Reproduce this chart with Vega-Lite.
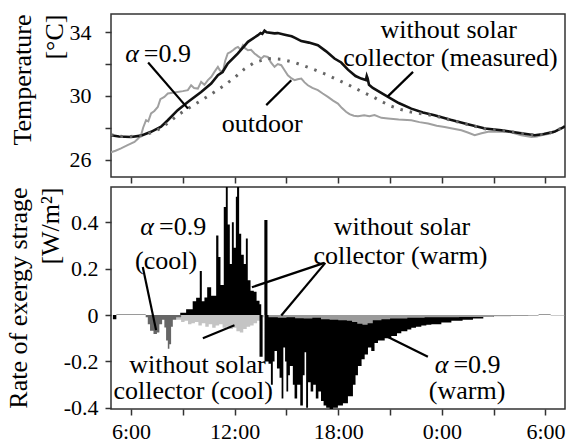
{
  "$schema": "https://vega.github.io/schema/vega-lite/v6.json",
  "background": "white",
  "padding": {"left": 4, "top": 13, "right": 0, "bottom": 2},
  "bounds": "flush",
  "spacing": 10,
  "config": {
    "font": "Liberation Serif, Times New Roman, serif",
    "view": {"stroke": "#333", "strokeWidth": 1.5},
    "text": {"font": "Liberation Serif, Times New Roman, serif"},
    "axis": {"grid": false, "domain": false, "tickColor": "#333", "tickWidth": 1.5, "tickSize": 6, "labelColor": "#000", "titleColor": "#000", "labelFont": "Liberation Serif, Times New Roman, serif", "titleFont": "Liberation Serif, Times New Roman, serif", "titleFontWeight": "normal", "labelFontSize": 22, "titleFontSize": 26}
  },
  "datasets": {
    "meas": [
      {"t": 4.84, "T": 27.53}, {"t": 5.3, "T": 27.45}, {"t": 6.0, "T": 27.42}, {"t": 6.58, "T": 27.5}, {"t": 7.16, "T": 27.74}, {"t": 7.74, "T": 28.06}, {"t": 8.13, "T": 28.47}, {"t": 8.7, "T": 29.1}, {"t": 9.29, "T": 29.62}, {"t": 10.06, "T": 30.25}, {"t": 10.64, "T": 30.78}, {"t": 11.03, "T": 31.3}, {"t": 11.3, "T": 31.5}, {"t": 11.6, "T": 32.04}, {"t": 12.19, "T": 32.67}, {"t": 12.77, "T": 33.4}, {"t": 13.35, "T": 33.82}, {"t": 13.5, "T": 33.95}, {"t": 13.6, "T": 33.9}, {"t": 13.73, "T": 34.1}, {"t": 13.85, "T": 34.0}, {"t": 14.31, "T": 33.93}, {"t": 14.5, "T": 33.95}, {"t": 14.9, "T": 33.85}, {"t": 15.3, "T": 33.75}, {"t": 15.5, "T": 33.65}, {"t": 15.86, "T": 33.45}, {"t": 16.3, "T": 33.35}, {"t": 16.82, "T": 33.19}, {"t": 17.3, "T": 32.8}, {"t": 17.78, "T": 32.35}, {"t": 18.17, "T": 32.1}, {"t": 18.56, "T": 31.65}, {"t": 19.0, "T": 31.25}, {"t": 19.33, "T": 31.09}, {"t": 19.6, "T": 31.0}, {"t": 19.65, "T": 31.25}, {"t": 19.7, "T": 31.1}, {"t": 19.78, "T": 30.7}, {"t": 20.0, "T": 30.5}, {"t": 20.88, "T": 29.94}, {"t": 21.5, "T": 29.55}, {"t": 22.23, "T": 29.2}, {"t": 22.9, "T": 28.95}, {"t": 23.57, "T": 28.79}, {"t": 24.5, "T": 28.5}, {"t": 25.5, "T": 28.22}, {"t": 26.5, "T": 27.95}, {"t": 27.45, "T": 27.84}, {"t": 28.4, "T": 27.68}, {"t": 29.38, "T": 27.53}, {"t": 29.9, "T": 27.6}, {"t": 30.5, "T": 27.74}, {"t": 31.0, "T": 28.0}, {"t": 31.13, "T": 28.1}
    ],
    "alpha": [
      {"t": 4.84, "T": 27.55}, {"t": 5.5, "T": 27.45}, {"t": 6.0, "T": 27.45}, {"t": 6.6, "T": 27.5}, {"t": 7.2, "T": 27.7}, {"t": 7.7, "T": 27.95}, {"t": 8.22, "T": 28.36}, {"t": 8.7, "T": 28.79}, {"t": 9.29, "T": 29.2}, {"t": 9.77, "T": 29.52}, {"t": 10.25, "T": 29.84}, {"t": 10.83, "T": 30.25}, {"t": 11.41, "T": 30.67}, {"t": 12.0, "T": 31.15}, {"t": 12.57, "T": 31.7}, {"t": 13.15, "T": 32.1}, {"t": 13.92, "T": 32.35}, {"t": 14.7, "T": 32.3}, {"t": 15.47, "T": 32.1}, {"t": 16.24, "T": 31.8}, {"t": 16.72, "T": 31.6}, {"t": 17.3, "T": 31.35}, {"t": 17.88, "T": 31.05}, {"t": 18.4, "T": 30.8}, {"t": 18.94, "T": 30.5}, {"t": 19.5, "T": 30.2}, {"t": 20.0, "T": 29.95}, {"t": 20.5, "T": 29.65}, {"t": 21.07, "T": 29.35}, {"t": 21.6, "T": 29.15}, {"t": 22.23, "T": 28.98}, {"t": 23.0, "T": 28.85}, {"t": 23.6, "T": 28.75}, {"t": 24.5, "T": 28.48}, {"t": 25.5, "T": 28.2}, {"t": 26.5, "T": 27.93}, {"t": 27.5, "T": 27.82}, {"t": 28.5, "T": 27.66}, {"t": 29.4, "T": 27.53}, {"t": 30.0, "T": 27.6}, {"t": 30.5, "T": 27.74}, {"t": 31.13, "T": 28.1}
    ],
    "outdoor": [
      {"t": 4.84, "T": 26.45}, {"t": 5.1, "T": 26.55}, {"t": 5.42, "T": 26.7}, {"t": 5.8, "T": 26.9}, {"t": 6.2, "T": 27.1}, {"t": 6.4, "T": 27.3}, {"t": 6.58, "T": 27.53}, {"t": 6.7, "T": 28.0}, {"t": 6.87, "T": 28.47}, {"t": 7.0, "T": 28.4}, {"t": 7.16, "T": 28.9}, {"t": 7.35, "T": 29.05}, {"t": 7.55, "T": 29.3}, {"t": 7.7, "T": 29.8}, {"t": 7.93, "T": 29.94}, {"t": 8.13, "T": 30.15}, {"t": 8.4, "T": 30.2}, {"t": 8.7, "T": 30.25}, {"t": 9.0, "T": 30.3}, {"t": 9.29, "T": 30.36}, {"t": 9.48, "T": 30.67}, {"t": 9.65, "T": 30.5}, {"t": 9.87, "T": 30.46}, {"t": 10.06, "T": 30.88}, {"t": 10.25, "T": 30.7}, {"t": 10.45, "T": 30.99}, {"t": 10.65, "T": 31.2}, {"t": 10.83, "T": 31.51}, {"t": 11.03, "T": 31.82}, {"t": 11.15, "T": 31.6}, {"t": 11.32, "T": 31.51}, {"t": 11.45, "T": 32.2}, {"t": 11.6, "T": 32.67}, {"t": 11.75, "T": 32.75}, {"t": 11.9, "T": 32.87}, {"t": 12.05, "T": 33.0}, {"t": 12.19, "T": 33.08}, {"t": 12.35, "T": 32.9}, {"t": 12.48, "T": 33.19}, {"t": 12.6, "T": 33.0}, {"t": 12.77, "T": 32.87}, {"t": 12.95, "T": 32.9}, {"t": 13.15, "T": 32.67}, {"t": 13.35, "T": 32.5}, {"t": 13.54, "T": 32.35}, {"t": 13.7, "T": 32.5}, {"t": 13.92, "T": 32.45}, {"t": 14.1, "T": 32.1}, {"t": 14.31, "T": 31.83}, {"t": 14.5, "T": 32.0}, {"t": 14.7, "T": 31.93}, {"t": 14.9, "T": 31.6}, {"t": 15.08, "T": 31.3}, {"t": 15.3, "T": 31.1}, {"t": 15.47, "T": 30.99}, {"t": 15.65, "T": 31.05}, {"t": 15.86, "T": 31.09}, {"t": 16.05, "T": 30.85}, {"t": 16.24, "T": 30.67}, {"t": 16.5, "T": 30.5}, {"t": 16.82, "T": 30.36}, {"t": 17.1, "T": 30.15}, {"t": 17.4, "T": 29.94}, {"t": 17.7, "T": 29.7}, {"t": 17.98, "T": 29.52}, {"t": 18.2, "T": 29.25}, {"t": 18.45, "T": 29.0}, {"t": 18.65, "T": 28.85}, {"t": 18.9, "T": 28.75}, {"t": 19.14, "T": 28.72}, {"t": 19.5, "T": 28.78}, {"t": 19.8, "T": 28.72}, {"t": 20.1, "T": 28.79}, {"t": 20.5, "T": 28.62}, {"t": 20.88, "T": 28.58}, {"t": 21.5, "T": 28.52}, {"t": 22.23, "T": 28.47}, {"t": 22.7, "T": 28.35}, {"t": 23.2, "T": 28.26}, {"t": 23.7, "T": 28.12}, {"t": 24.16, "T": 28.05}, {"t": 24.6, "T": 27.95}, {"t": 25.13, "T": 27.84}, {"t": 25.5, "T": 27.7}, {"t": 25.9, "T": 27.53}, {"t": 26.3, "T": 27.65}, {"t": 26.68, "T": 27.74}, {"t": 27.3, "T": 27.76}, {"t": 27.84, "T": 27.74}, {"t": 28.2, "T": 27.65}, {"t": 28.6, "T": 27.53}, {"t": 29.19, "T": 27.42}, {"t": 29.5, "T": 27.45}, {"t": 29.77, "T": 27.53}, {"t": 30.2, "T": 27.62}, {"t": 30.54, "T": 27.74}, {"t": 30.8, "T": 27.9}, {"t": 31.13, "T": 28.1}
    ],
    "tlead": [
      {"t": 6.99, "T": 32.1, "t2": 9.3, "T2": 29.2},
      {"t": 13.83, "T": 29.42, "t2": 15.28, "T2": 30.99},
      {"t": 22.33, "T": 31.51, "t2": 20.84, "T2": 29.94}
    ],
    "tlab": [
      {"t": 13.6, "T": 27.74, "label": "outdoor"},
      {"t": 24.4, "T": 33.61, "label": "without solar"},
      {"t": 24.5, "T": 31.87, "label": "collector (measured)"}
    ],
    "talpha": [
      {"t": 6.45, "T": 32.16, "g": "α", "r": "=0.9"}
    ],
    "pos": [
      {"t": 8.85, "v": 0.01}, {"t": 9.19, "v": 0.025}, {"t": 9.57, "v": 0.06}, {"t": 9.77, "v": 0.075}, {"t": 9.98, "v": 0.19}, {"t": 10.1, "v": 0.06}, {"t": 10.25, "v": 0.076}, {"t": 10.41, "v": 0.12}, {"t": 10.64, "v": 0.083}, {"t": 10.93, "v": 0.343}, {"t": 11.06, "v": 0.25}, {"t": 11.18, "v": 0.13}, {"t": 11.37, "v": 0.466}, {"t": 11.49, "v": 0.6}, {"t": 11.6, "v": 0.39}, {"t": 11.72, "v": 0.22}, {"t": 11.84, "v": 0.4}, {"t": 11.95, "v": 0.29}, {"t": 12.07, "v": 0.51}, {"t": 12.14, "v": 0.6}, {"t": 12.26, "v": 0.35}, {"t": 12.38, "v": 0.26}, {"t": 12.53, "v": 0.22}, {"t": 12.65, "v": 0.33}, {"t": 12.76, "v": 0.15}, {"t": 12.92, "v": 0.105}, {"t": 13.11, "v": 0.1}, {"t": 13.27, "v": 0.062}, {"t": 13.44, "v": 0.047}, {"t": 13.54, "v": 0}, {"t": 13.72, "v": 0.41}, {"t": 13.9, "v": 0}
    ],
    "neg": [
      {"t": 4.95, "v": -0.018}, {"t": 5.15, "v": 0}, {"t": 13.44, "v": -0.18}, {"t": 13.62, "v": 0}, {"t": 13.73, "v": -0.2}, {"t": 13.96, "v": -0.21}, {"t": 14.1, "v": -0.3}, {"t": 14.21, "v": -0.2}, {"t": 14.31, "v": -0.155}, {"t": 14.45, "v": -0.23}, {"t": 14.6, "v": -0.27}, {"t": 14.72, "v": -0.36}, {"t": 14.82, "v": -0.14}, {"t": 14.92, "v": -0.2}, {"t": 15.0, "v": -0.33}, {"t": 15.1, "v": -0.26}, {"t": 15.2, "v": -0.22}, {"t": 15.37, "v": -0.3}, {"t": 15.47, "v": -0.36}, {"t": 15.62, "v": -0.3}, {"t": 15.8, "v": -0.39}, {"t": 15.95, "v": -0.26}, {"t": 16.05, "v": -0.16}, {"t": 16.14, "v": -0.4}, {"t": 16.25, "v": -0.29}, {"t": 16.4, "v": -0.33}, {"t": 16.55, "v": -0.3}, {"t": 16.7, "v": -0.36}, {"t": 16.85, "v": -0.33}, {"t": 17.0, "v": -0.37}, {"t": 17.15, "v": -0.39}, {"t": 17.3, "v": -0.4}, {"t": 17.5, "v": -0.41}, {"t": 17.7, "v": -0.4}, {"t": 17.98, "v": -0.39}, {"t": 18.27, "v": -0.38}, {"t": 18.56, "v": -0.35}, {"t": 18.85, "v": -0.3}, {"t": 19.0, "v": -0.26}, {"t": 19.14, "v": -0.22}, {"t": 19.35, "v": -0.19}, {"t": 19.53, "v": -0.17}, {"t": 19.72, "v": -0.14}, {"t": 19.91, "v": -0.155}, {"t": 20.1, "v": -0.12}, {"t": 20.3, "v": -0.11}, {"t": 20.69, "v": -0.1}, {"t": 21.07, "v": -0.09}, {"t": 21.4, "v": -0.078}, {"t": 21.65, "v": -0.07}, {"t": 22.0, "v": -0.062}, {"t": 22.23, "v": -0.055}, {"t": 22.5, "v": -0.05}, {"t": 22.81, "v": -0.045}, {"t": 23.1, "v": -0.042}, {"t": 23.39, "v": -0.04}, {"t": 23.97, "v": -0.032}, {"t": 24.55, "v": -0.025}, {"t": 25.2, "v": -0.02}, {"t": 25.8, "v": -0.015}, {"t": 26.4, "v": -0.008}, {"t": 27.0, "v": 0}
    ],
    "acool": [
      {"t": 6.85, "v": -0.01}, {"t": 6.97, "v": -0.04}, {"t": 7.1, "v": -0.068}, {"t": 7.3, "v": -0.082}, {"t": 7.5, "v": -0.075}, {"t": 7.64, "v": -0.04}, {"t": 7.8, "v": -0.02}, {"t": 7.93, "v": -0.054}, {"t": 8.03, "v": -0.11}, {"t": 8.13, "v": -0.145}, {"t": 8.22, "v": -0.126}, {"t": 8.32, "v": -0.05}, {"t": 8.42, "v": -0.02}, {"t": 8.61, "v": -0.01}, {"t": 8.9, "v": 0}
    ],
    "wcool": [
      {"t": 8.6, "v": -0.02}, {"t": 8.9, "v": -0.03}, {"t": 9.1, "v": -0.025}, {"t": 9.3, "v": -0.04}, {"t": 9.5, "v": -0.035}, {"t": 9.7, "v": -0.03}, {"t": 9.9, "v": -0.045}, {"t": 10.1, "v": -0.035}, {"t": 10.3, "v": -0.05}, {"t": 10.5, "v": -0.04}, {"t": 10.7, "v": -0.055}, {"t": 10.9, "v": -0.045}, {"t": 11.1, "v": -0.04}, {"t": 11.3, "v": -0.055}, {"t": 11.5, "v": -0.05}, {"t": 11.7, "v": -0.06}, {"t": 11.9, "v": -0.055}, {"t": 12.1, "v": -0.07}, {"t": 12.3, "v": -0.075}, {"t": 12.5, "v": -0.06}, {"t": 12.7, "v": -0.05}, {"t": 12.9, "v": -0.045}, {"t": 13.1, "v": -0.035}, {"t": 13.3, "v": -0.025}, {"t": 13.5, "v": -0.01}, {"t": 13.7, "v": 0}
    ],
    "band": [
      {"t": 5.15, "v": 0.005}, {"t": 6.85, "v": 0}, {"t": 13.96, "v": -0.01}, {"t": 14.5, "v": -0.012}, {"t": 15.0, "v": -0.01}, {"t": 15.5, "v": -0.014}, {"t": 16.0, "v": -0.015}, {"t": 16.5, "v": -0.012}, {"t": 17.0, "v": -0.018}, {"t": 17.5, "v": -0.02}, {"t": 18.0, "v": -0.022}, {"t": 18.5, "v": -0.025}, {"t": 18.8, "v": -0.03}, {"t": 19.1, "v": -0.038}, {"t": 19.4, "v": -0.042}, {"t": 19.7, "v": -0.035}, {"t": 20.0, "v": -0.022}, {"t": 20.5, "v": -0.018}, {"t": 21.0, "v": -0.015}, {"t": 22.0, "v": -0.012}, {"t": 23.0, "v": -0.01}, {"t": 24.0, "v": -0.01}, {"t": 25.0, "v": -0.008}, {"t": 26.0, "v": -0.008}, {"t": 27.0, "v": -0.005}, {"t": 28.0, "v": -0.004}, {"t": 29.0, "v": -0.003}, {"t": 29.6, "v": 0.005}, {"t": 30.3, "v": -0.002}, {"t": 31.13, "v": 0}
    ],
    "blead": [
      {"t": 6.68, "v": 0.207, "t2": 7.45, "v2": -0.065},
      {"t": 10.16, "v": -0.1, "t2": 11.99, "v2": -0.044},
      {"t": 17.2, "v": 0.225, "t2": 13.0, "v2": 0.12},
      {"t": 17.25, "v": 0.225, "t2": 14.7, "v2": -0.002},
      {"t": 23.19, "v": -0.18, "t2": 20.88, "v2": -0.095}
    ],
    "blab": [
      {"t": 8.03, "v": 0.2, "label": "(cool)"},
      {"t": 21.69, "v": 0.347, "label": "without solar"},
      {"t": 21.6, "v": 0.219, "label": "collector (warm)"},
      {"t": 9.85, "v": -0.25, "label": "without solar"},
      {"t": 9.6, "v": -0.363, "label": "collector (cool)"},
      {"t": 25.46, "v": -0.363, "label": "(warm)"}
    ],
    "balpha": [
      {"t": 7.33, "v": 0.347, "g": "α", "r": "=0.9"},
      {"t": 24.38, "v": -0.25, "g": "α", "r": "=0.9"}
    ]
  },
  "vconcat": [
    {
      "width": 454,
      "height": 163,
      "layer": [
        {
          "data": {"name": "outdoor"},
          "mark": {"type": "line", "color": "#a0a0a0", "strokeWidth": 2, "clip": true},
          "encoding": {
            "x": {"field": "t", "type": "quantitative", "scale": {"domain": [4.84, 31.13], "nice": false, "zero": false}, "axis": {"values": [6, 9, 12, 15, 18, 21, 24, 27, 30], "labels": false, "title": null}},
            "y": {"field": "T", "type": "quantitative", "scale": {"domain": [24.9, 35.15], "nice": false, "zero": false}, "axis": {"values": [26, 28, 30, 32, 34], "labelExpr": "datum.value % 4 === 2 ? datum.label : ''", "labelPadding": 14, "title": ["Temperature", "[°C]"], "titleAnchor": "end", "titleLineHeight": 32, "titlePadding": 2}}
          }
        },
        {
          "data": {"name": "meas"},
          "mark": {"type": "line", "color": "#111", "strokeWidth": 2.6, "clip": true},
          "encoding": {"x": {"field": "t", "type": "quantitative"}, "y": {"field": "T", "type": "quantitative"}}
        },
        {
          "data": {"name": "alpha"},
          "mark": {"type": "line", "color": "#666", "strokeWidth": 3, "strokeDash": [2.5, 7], "clip": true},
          "encoding": {"x": {"field": "t", "type": "quantitative"}, "y": {"field": "T", "type": "quantitative"}}
        },
        {
          "data": {"name": "tlead"},
          "mark": {"type": "rule", "color": "#000", "strokeWidth": 2.2},
          "encoding": {"x": {"field": "t", "type": "quantitative"}, "y": {"field": "T", "type": "quantitative"}, "x2": {"field": "t2"}, "y2": {"field": "T2"}}
        },
        {
          "data": {"name": "tlab"},
          "mark": {"type": "text", "fontSize": 26, "baseline": "alphabetic", "align": "center", "color": "#000"},
          "encoding": {"x": {"field": "t", "type": "quantitative"}, "y": {"field": "T", "type": "quantitative"}, "text": {"field": "label"}}
        },
        {
          "data": {"name": "talpha"},
          "mark": {"type": "text", "fontSize": 26, "fontStyle": "italic", "baseline": "alphabetic", "align": "right", "color": "#000"},
          "encoding": {"x": {"field": "t", "type": "quantitative"}, "y": {"field": "T", "type": "quantitative"}, "text": {"field": "g"}}
        },
        {
          "data": {"name": "talpha"},
          "mark": {"type": "text", "fontSize": 26, "baseline": "alphabetic", "align": "left", "dx": 5, "color": "#000"},
          "encoding": {"x": {"field": "t", "type": "quantitative"}, "y": {"field": "T", "type": "quantitative"}, "text": {"field": "r"}}
        }
      ]
    },
    {
      "width": 454,
      "height": 222,
      "layer": [
        {
          "data": {"name": "wcool"},
          "mark": {"type": "area", "interpolate": "step-after", "color": "#c4c4c4", "clip": true},
          "encoding": {
            "x": {"field": "t", "type": "quantitative", "scale": {"domain": [4.84, 31.13], "nice": false, "zero": false}, "axis": {"values": [6, 9, 12, 15, 18, 21, 24, 27, 30], "labelExpr": "datum.value % 6 === 0 ? (datum.value % 24) + ':00' : ''", "labelFontSize": 22, "labelPadding": 6, "title": null}},
            "y": {"field": "v", "type": "quantitative", "scale": {"domain": [-0.405, 0.552], "nice": false, "zero": false}, "axis": {"values": [-0.4, -0.3, -0.2, -0.1, 0, 0.1, 0.2, 0.3, 0.4, 0.5], "labelExpr": "abs(round(datum.value*10)) % 2 === 0 ? (datum.value === 0 ? '0' : (datum.value < 0 ? '-' : '') + format(abs(datum.value), '.1f')) : ''", "labelPadding": 7, "title": ["Rate of exergy strage", "[W/m²]"], "titleAnchor": "end", "titleLineHeight": 32, "titlePadding": 0}}
          }
        },
        {
          "data": {"name": "acool"},
          "mark": {"type": "area", "interpolate": "step-after", "color": "#666", "clip": true},
          "encoding": {"x": {"field": "t", "type": "quantitative"}, "y": {"field": "v", "type": "quantitative"}}
        },
        {
          "data": {"name": "pos"},
          "mark": {"type": "area", "interpolate": "step-after", "color": "#000", "clip": true},
          "encoding": {"x": {"field": "t", "type": "quantitative"}, "y": {"field": "v", "type": "quantitative"}}
        },
        {
          "data": {"name": "neg"},
          "mark": {"type": "area", "interpolate": "step-after", "color": "#000", "clip": true},
          "encoding": {"x": {"field": "t", "type": "quantitative"}, "y": {"field": "v", "type": "quantitative"}}
        },
        {
          "data": {"name": "band"},
          "mark": {"type": "area", "interpolate": "step-after", "color": "#9a9a9a", "clip": true},
          "encoding": {"x": {"field": "t", "type": "quantitative"}, "y": {"field": "v", "type": "quantitative"}}
        },
        {
          "data": {"name": "blead"},
          "mark": {"type": "rule", "color": "#000", "strokeWidth": 2.2},
          "encoding": {"x": {"field": "t", "type": "quantitative"}, "y": {"field": "v", "type": "quantitative"}, "x2": {"field": "t2"}, "y2": {"field": "v2"}}
        },
        {
          "data": {"name": "blab"},
          "mark": {"type": "text", "fontSize": 26, "baseline": "alphabetic", "align": "center", "color": "#000"},
          "encoding": {"x": {"field": "t", "type": "quantitative"}, "y": {"field": "v", "type": "quantitative"}, "text": {"field": "label"}}
        },
        {
          "data": {"name": "balpha"},
          "mark": {"type": "text", "fontSize": 26, "fontStyle": "italic", "baseline": "alphabetic", "align": "right", "color": "#000"},
          "encoding": {"x": {"field": "t", "type": "quantitative"}, "y": {"field": "v", "type": "quantitative"}, "text": {"field": "g"}}
        },
        {
          "data": {"name": "balpha"},
          "mark": {"type": "text", "fontSize": 26, "baseline": "alphabetic", "align": "left", "dx": 5, "color": "#000"},
          "encoding": {"x": {"field": "t", "type": "quantitative"}, "y": {"field": "v", "type": "quantitative"}, "text": {"field": "r"}}
        }
      ]
    }
  ]
}
